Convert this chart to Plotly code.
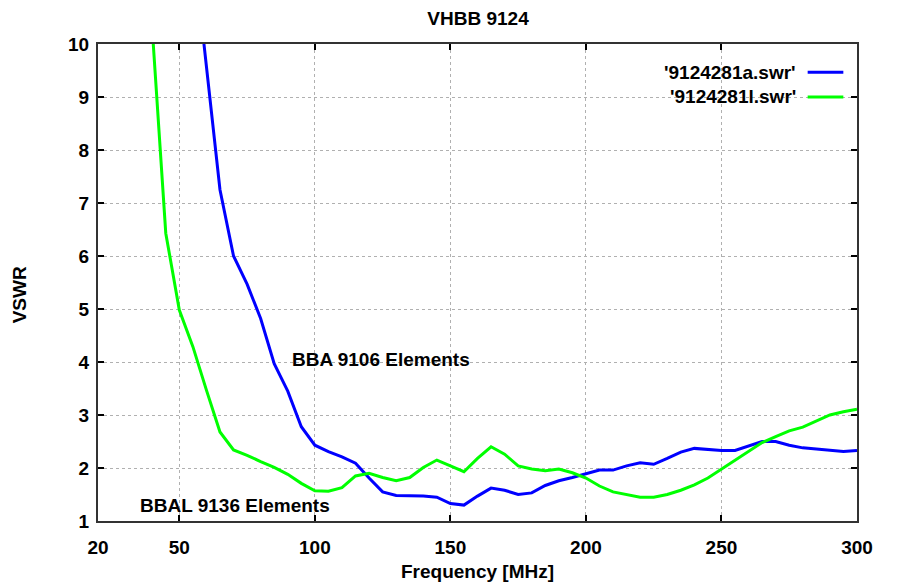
import plotly.graph_objects as go

freq_a = [55, 60, 65, 70, 75, 80, 85, 90, 95, 100, 105, 110, 115, 120, 125, 130, 135, 140, 145, 150,
          155, 160, 165, 170, 175, 180, 185, 190, 195, 200, 205, 210, 215, 220, 225, 230, 235, 240,
          245, 250, 255, 260, 265, 270, 275, 280, 285, 290, 295, 300]
vswr_a = [11.9, 9.6, 7.25, 6.0, 5.47, 4.82, 3.97, 3.45, 2.78, 2.43, 2.31, 2.21, 2.09, 1.81, 1.55, 1.48,
          1.48, 1.47, 1.45, 1.33, 1.30, 1.47, 1.62, 1.58, 1.50, 1.53, 1.67, 1.76, 1.82, 1.89, 1.96, 1.96,
          2.04, 2.10, 2.07, 2.18, 2.30, 2.37, 2.35, 2.33, 2.33, 2.41, 2.50, 2.50, 2.43, 2.38, 2.36, 2.34,
          2.31, 2.33]

freq_l = [40, 45, 50, 55, 60, 65, 70, 75, 80, 85, 90, 95, 100, 105, 110, 115, 120, 125, 130, 135, 140,
          145, 150, 155, 160, 165, 170, 175, 180, 185, 190, 195, 200, 205, 210, 215, 220, 225, 230, 235,
          240, 245, 250, 255, 260, 265, 270, 275, 280, 285, 290, 295, 300]
vswr_l = [10.3, 6.43, 4.98, 4.29, 3.47, 2.68, 2.34, 2.24, 2.12, 2.01, 1.88, 1.71, 1.57, 1.56, 1.63, 1.85,
          1.90, 1.82, 1.76, 1.82, 2.01, 2.15, 2.04, 1.93, 2.18, 2.40, 2.26, 2.04, 1.98, 1.95, 1.98, 1.91,
          1.81, 1.66, 1.55, 1.50, 1.45, 1.45, 1.50, 1.58, 1.68, 1.81, 1.98, 2.14, 2.31, 2.48, 2.59, 2.70,
          2.77, 2.89, 3.00, 3.06, 3.11]

series_names = ["'9124281a.swr'", "'9124281l.swr'"]
series_colors = ["#0000FF", "#00FF00"]
x_ticks = [20, 50, 100, 150, 200, 250, 300]
y_ticks = [1, 2, 3, 4, 5, 6, 7, 8, 9, 10]
title_text = "VHBB 9124"
x_title = "Frequency [MHz]"
y_title = "VSWR"
label_a = "BBA 9106 Elements"
label_l = "BBAL 9136 Elements"

FONT = "Liberation Sans, Arial, sans-serif"
FS = 19
bold = dict(family=FONT, size=FS, color="#000000", weight="bold")

fig = go.Figure()
fig.add_trace(go.Scatter(x=freq_a, y=vswr_a, mode="lines", name=series_names[0],
                         line=dict(color=series_colors[0], width=3), showlegend=False))
fig.add_trace(go.Scatter(x=freq_l, y=vswr_l, mode="lines", name=series_names[1],
                         line=dict(color=series_colors[1], width=3), showlegend=False))

axis_common = dict(
    showline=True, linecolor="#333333", linewidth=2, mirror="ticks",
    ticks="inside", ticklen=6, tickwidth=1.5, tickcolor="#000000",
    showgrid=True, gridcolor="#B0B0B0", griddash="dot", gridwidth=1,
    zeroline=False,
    tickfont=bold,
)

fig.update_xaxes(range=[20, 300], tickvals=x_ticks, ticklabelstandoff=8, **axis_common)
fig.update_yaxes(range=[1, 10], tickvals=y_ticks, ticklabelstandoff=3, **axis_common)

# axis titles (placed like gnuplot)
fig.add_annotation(xref="paper", yref="paper", x=0.5, y=-0.105, text=x_title, showarrow=False,
                   xanchor="center", yanchor="middle", font=bold)
fig.add_annotation(xref="paper", yref="paper", x=-0.1035, y=0.474, text=y_title, showarrow=False,
                   textangle=-90, xanchor="center", yanchor="middle", font=bold, borderpad=0)

# in-plot labels
fig.add_annotation(x=90.8, y=4.04, text=label_a, showarrow=False,
                   xanchor="left", yanchor="middle", font=bold)
fig.add_annotation(x=34.8, y=1.30, text=label_l, showarrow=False,
                   xanchor="left", yanchor="middle", font=bold)

# gnuplot-style key: text then line sample
key_rows = [0.941, 0.889]
for name, color, yy in zip(series_names, series_colors, key_rows):
    fig.add_annotation(xref="paper", yref="paper", x=0.922, y=yy, text=name,
                       showarrow=False, xanchor="right", yanchor="middle", font=bold)
    fig.add_shape(type="line", xref="paper", yref="paper", x0=0.935, x1=0.982, y0=yy, y1=yy,
                  line=dict(color=color, width=3))

fig.update_layout(
    width=910, height=579,
    margin=dict(l=90, r=61, t=36, b=66),
    paper_bgcolor="white", plot_bgcolor="white",
    title=dict(text=title_text, x=0.5165, xanchor="center", y=0.983, yanchor="middle", font=bold),
    showlegend=False,
)

fig.write_html("out.html")
